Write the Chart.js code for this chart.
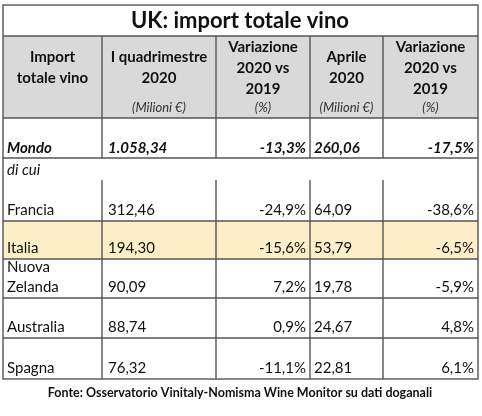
<!DOCTYPE html>
<html><head><meta charset="utf-8">
<script src="https://cdn.jsdelivr.net/npm/chart.js@4"></script>
<style>html,body{margin:0;padding:0;background:#fff}#w{width:482px;height:416px}</style>
</head><body><div id="w"><canvas id="c"></canvas></div>
<script>
const title = "UK: import totale vino";
const headers = [["Import","totale vino"],["I quadrimestre","2020"],["Variazione","2020 vs","2019"],["Aprile","2020"],["Variazione","2020 vs","2019"]];
const units = ["","(Milioni €)","(%)","(Milioni €)","(%)"];
const countries = [["Francia"],["Italia"],["Nuova","Zelanda"],["Australia"],["Spagna"]];
const q1Values = ["312,46","194,30","90,09","88,74","76,32"];
const q1Change = ["-24,9%","-15,6%","7,2%","0,9%","-11,1%"];
const aprValues = ["64,09","53,79","19,78","24,67","22,81"];
const aprChange = ["-38,6%","-6,5%","-5,9%","4,8%","6,1%"];
const worldRow = ["Mondo","1.058,34","-13,3%","260,06","-17,5%"];
const subLabel = "di cui";
const source = "Fonte: Osservatorio Vinitaly-Nomisma Wine Monitor su dati doganali";

const F = "Lato, 'Open Sans', sans-serif";
const colX = [3,102,216,310,383,478];
const rowB = [180,221,259,298,338,379];
const tablePlugin = {
  id:'table',
  afterDraw(chart){
    const c = chart.ctx, sx = chart.scales.x, sy = chart.scales.y;
    const X = v=>sx.getPixelForValue(v), Y = v=>sy.getPixelForValue(v);
    c.save();
    c.fillStyle = '#d9d9d9'; c.fillRect(X(3),Y(36),X(478)-X(3),Y(118)-Y(36));
    c.fillStyle = '#fcefc8'; c.fillRect(X(3),Y(221),X(478)-X(3),Y(259)-Y(221));
    c.strokeStyle = '#555'; c.lineWidth = 1.4;
    const line=(x1,y1,x2,y2)=>{c.beginPath();c.moveTo(X(x1),Y(y1));c.lineTo(X(x2),Y(y2));c.stroke();};
    c.strokeRect(X(3),Y(5),X(478)-X(3),Y(379)-Y(5));
    [36,118,158,221,259,298,338].forEach(y=>line(3,y,478,y));
    colX.slice(1,5).forEach(x=>{line(x,36,x,158);line(x,180,x,379);});
    c.fillStyle = '#111';
    c.textBaseline = 'middle'; c.textAlign='center';
    c.font = `bold 22px ${F}`; c.fillText(title, X(240), Y(21));
    c.font = `bold 15px ${F}`;
    headers.forEach((h,i)=>{
      const cx = (colX[i]+colX[i+1])/2;
      const ys = h.length===3 ? [47,68,89] : [57,78];
      h.forEach((t,j)=>c.fillText(t, X(cx), Y(ys[j])));
      if(units[i]){c.save();c.font=`italic 13px ${F}`;c.fillStyle='#333';c.fillText(units[i],X(cx),Y(108));c.restore();}
    });
    c.textBaseline='alphabetic';
    const drawRow=(vals,base,font)=>{
      c.font=font;
      c.textAlign='left';
      const names = Array.isArray(vals[0])?vals[0]:[vals[0]];
      names.forEach((n,k)=>c.fillText(n,X(7),Y(base-(names.length-1-k)*20)));
      c.fillText(vals[1],X(108),Y(base));
      c.fillText(vals[3],X(314),Y(base));
      c.textAlign='right';
      c.fillText(vals[2],X(306),Y(base));
      c.fillText(vals[4],X(474),Y(base));
    };
    drawRow(worldRow,153,`bold italic 15px ${F}`);
    c.font=`italic 15px ${F}`; c.textAlign='left'; c.fillText(subLabel,X(7),Y(175));
    countries.forEach((n,i)=>drawRow([n,q1Values[i],q1Change[i],aprValues[i],aprChange[i]],rowB[i+1]-6,`15px ${F}`));
    c.textAlign='center'; c.font=`bold 12.5px ${F}`; c.fillText(source,X(240),Y(397));
    c.restore();
  }
};
new Chart(document.getElementById('c'),{
  type:'scatter',
  data:{datasets:[{data:[]}]},
  options:{responsive:true,maintainAspectRatio:false,animation:false,
    layout:{padding:0},
    plugins:{legend:{display:false},tooltip:{enabled:false}},
    scales:{x:{type:'linear',min:0,max:482,display:false},y:{type:'linear',min:0,max:416,reverse:true,display:false}}},
  plugins:[tablePlugin]
});
</script></body></html>
